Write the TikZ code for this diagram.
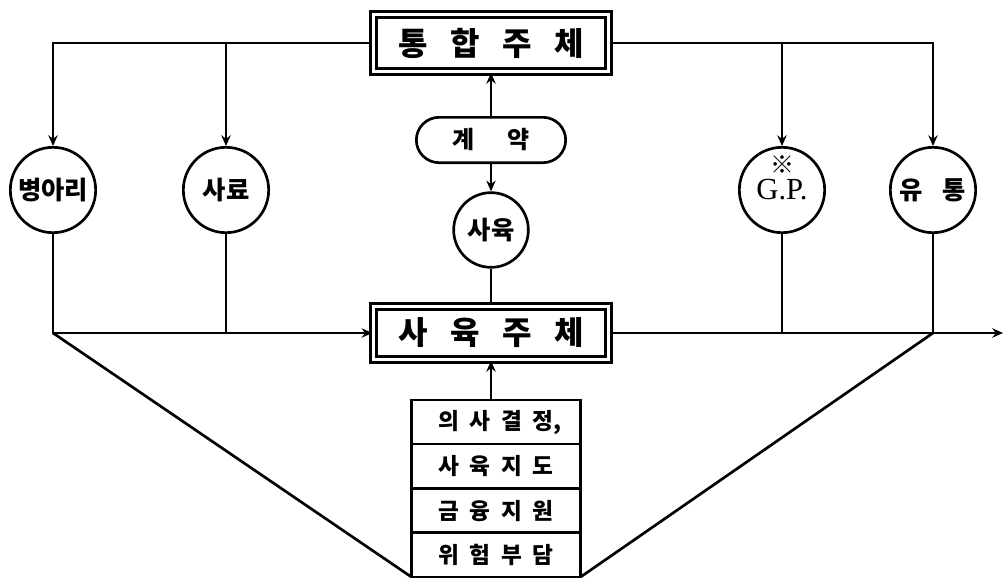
\documentclass[tikz,border=0pt]{standalone}
\usepackage{fontspec}
\newfontfamily\kr{Noto Sans CJK KR}
\newfontfamily\gpfont{Liberation Serif}
\usetikzlibrary{positioning, arrows.meta}
\tikzset{
    >={Stealth[length=8pt, width=7pt]}, % filled arrow heads
    mainbox/.style={draw, double, double distance=2.5pt, minimum width=176pt, minimum height=43pt, inner sep=0pt,
        font=\kr\bfseries\fontsize{24}{24}\selectfont}, % the two boxes with a double frame
    unit/.style={draw, circle, minimum size=64pt, inner sep=0pt, font=\kr\bfseries\fontsize{19}{19}\selectfont},
    pill/.style={draw, rounded corners=17pt, minimum width=112pt, minimum height=34pt, inner sep=0pt,
        font=\kr\bfseries\fontsize{18}{18}\selectfont},
    cell/.style={draw, minimum width=127pt, minimum height=33.2pt, inner sep=0pt, outer sep=0pt,
        font=\kr\bfseries\fontsize{17}{17}\selectfont}, % one row of the stack
    node distance=0pt,
}
\begin{document}
\begin{tikzpicture}[x=0.75pt, y=-0.75pt, line width=2pt]
    \useasboundingbox (0,0) rectangle (1004,578);
    \node[mainbox] (top) at (491,43) {통\hspace{17pt}합\hspace{17pt}주\hspace{17pt}체};
    \node[mainbox, minimum height=40pt] (farm) at (491,333) {사\hspace{17pt}육\hspace{17pt}주\hspace{17pt}체};
    \node[pill] (contract) at (491,140) {계\hspace{25pt}약};
    \node[unit, minimum size=56pt] (breed) at (491,230) {사육};
    \node[unit] (chick) at (53,190) {병아리};
    \node[unit] (feed) at (226,190) {사료};
    \node[unit, label={[yshift=19pt, font=\kr\fontsize{18}{18}\selectfont]center:※}] (gp) at (782,190) {\gpfont\mdseries\fontsize{23}{23}\selectfont G.P.};
    \node[unit] (dist) at (933,190) {유\hspace{15pt}통};
    \node[cell] (r1) at (496,422) {의\hspace{8pt}사\hspace{8pt}결\hspace{8pt}정\rlap{,}};
    \node[cell, below=of r1] (r2) {사\hspace{8pt}육\hspace{8pt}지\hspace{8pt}도};
    \node[cell, below=of r2] (r3) {금\hspace{8pt}융\hspace{8pt}지\hspace{8pt}원};
    \node[cell, below=of r3] (r4) {위\hspace{8pt}험\hspace{8pt}부\hspace{8pt}담};
    \coordinate (out) at (1003,333);
    % from the top box down to the four suppliers
    \draw[->] (top.west) -| (chick);
    \draw[->] (top.west) -| (feed);
    \draw[->] (top.east) -| (gp);
    \draw[->] (top.east) -| (dist);
    \draw[->] (contract) -- (top);
    \draw[->] (contract) -- (breed);
    \draw (breed) -- (farm);
    % into and out of the farm box
    \draw[->] (chick) |- (farm);
    \draw (feed) -- (feed |- farm);
    \draw (gp) -- (gp |- farm);
    \draw (dist) -- (dist |- farm);
    \draw[->] (farm) -- (out);
    \draw[->] (r1.north -| breed) -- (farm);
    \draw (chick |- farm) -- (r4.south west);
    \draw (dist |- farm) -- (r4.south east);
\end{tikzpicture}
\end{document}
